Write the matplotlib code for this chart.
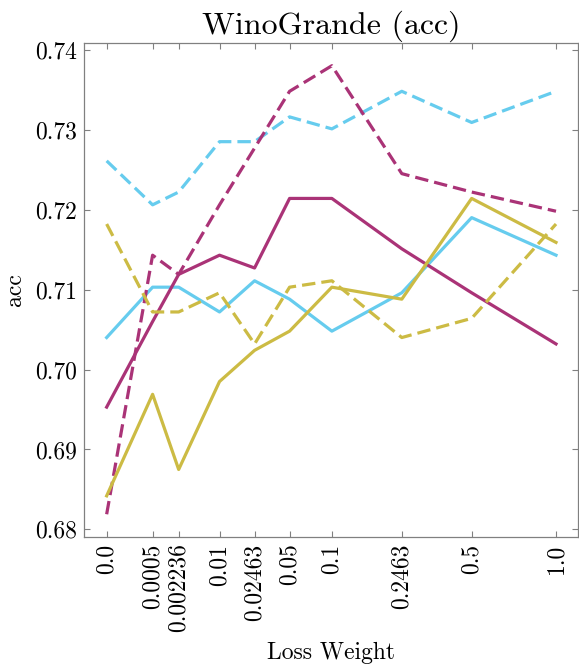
import numpy as np
import matplotlib
matplotlib.use("Agg")
import matplotlib.pyplot as plt

plt.rcParams['font.family'] = 'serif'
plt.rcParams['font.serif'] = ['cmr10', 'DejaVu Serif']
plt.rcParams['mathtext.fontset'] = 'cm'
plt.rcParams['axes.formatter.use_mathtext'] = True
plt.rcParams['axes.unicode_minus'] = False

# Data
loss_weights = [0.0, 0.0005, 0.002236, 0.01, 0.02463, 0.05, 0.1, 0.2463, 0.5, 1.0]
tick_labels = ["0.0", "0.0005", "0.002236", "0.01", "0.02463", "0.05", "0.1", "0.2463", "0.5", "1.0"]

cyan_dashed = [0.7261, 0.7206, 0.7222, 0.7285, 0.7285, 0.7316, 0.7301, 0.7348, 0.7309, 0.7348]
cyan_solid = [0.7040, 0.7103, 0.7103, 0.7072, 0.7111, 0.7088, 0.7048, 0.7096, 0.7190, 0.7143]
purple_dashed = [0.6819, 0.7143, 0.7119, 0.7206, 0.7277, 0.7348, 0.7380, 0.7245, 0.7222, 0.7198]
purple_solid = [0.6953, 0.7060, 0.7119, 0.7143, 0.7127, 0.7214, 0.7214, 0.7151, 0.7096, 0.7032]
yellow_dashed = [0.7182, 0.7072, 0.7072, 0.7096, 0.7032, 0.7103, 0.7111, 0.7040, 0.7064, 0.7182]
yellow_solid = [0.6842, 0.6969, 0.6875, 0.6985, 0.7024, 0.7048, 0.7103, 0.7088, 0.7214, 0.7159]

CYAN = '#66CCEE'
PURPLE = '#AA3377'
YELLOW = '#CCBB44'

series = [
    (cyan_dashed, CYAN, '--'),
    (cyan_solid, CYAN, '-'),
    (purple_dashed, PURPLE, '--'),
    (purple_solid, PURPLE, '-'),
    (yellow_dashed, YELLOW, '--'),
    (yellow_solid, YELLOW, '-'),
]

P = 0.3
def fwd(x):
    x = np.asarray(x, dtype=float)
    return np.sign(x) * np.abs(x) ** P
def inv(x):
    x = np.asarray(x, dtype=float)
    return np.sign(x) * np.abs(x) ** (1.0 / P)

fig = plt.figure(figsize=(5.79, 6.70), dpi=100)
ax = fig.add_axes([0.1454, 0.199, 0.8537, 0.7364])
ax.set_xscale('function', functions=(fwd, inv))

for vals, col, ls in series:
    ax.plot(loss_weights, vals, color=col, linestyle=ls, linewidth=2.3,
            dashes=(4.2, 1.9) if ls == '--' else (None, None))

ax.set_xticks(loss_weights)
ax.set_xticklabels(tick_labels, rotation=90, fontsize=17)
ax.set_yticks([0.68, 0.69, 0.70, 0.71, 0.72, 0.73, 0.74])
ax.set_yticklabels(["0.68", "0.69", "0.70", "0.71", "0.72", "0.73", "0.74"], fontsize=17)
ax.minorticks_off()
ax.tick_params(direction='in', length=4, width=0.8, color='#808080',
               top=True, right=True, pad=5)

for sp in ax.spines.values():
    sp.set_color('#808080')
    sp.set_linewidth(0.9)

ax.set_title("WinoGrande (acc)", fontsize=23, pad=7)
ax.set_xlabel("Loss Weight", fontsize=17, labelpad=7)
ax.set_ylabel("acc", fontsize=17, labelpad=7)

fig.savefig("out.png", dpi=100)
